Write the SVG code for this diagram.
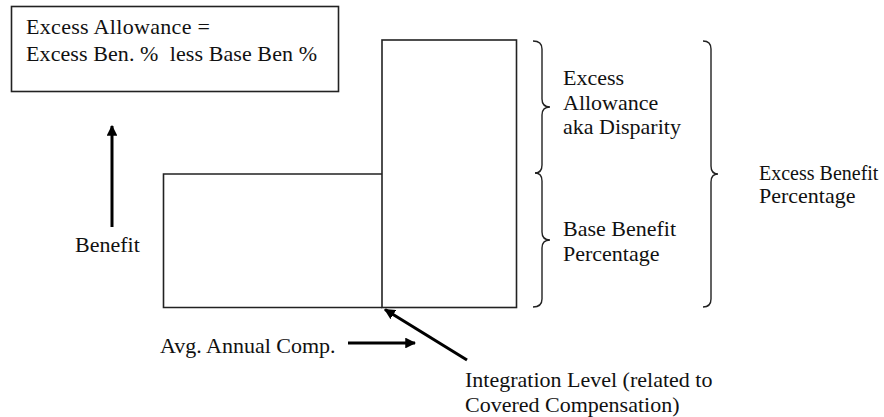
<svg xmlns="http://www.w3.org/2000/svg" width="884" height="417" viewBox="0 0 884 417">
<style>
  text { font-family: 'Liberation Serif', 'Times New Roman', Tinos, 'DejaVu Serif', serif; font-size: 22px; fill: #111; }
  .box { fill: none; stroke: #222; stroke-width: 1.6; }
  .brace { fill: none; stroke: #222; stroke-width: 1.4; }
  .arrow { fill: none; stroke: #000; stroke-width: 3; }
</style>
<defs>
  <marker id="ah" viewBox="0 0 10 10" refX="9" refY="5" markerWidth="3.6" markerHeight="3.6" orient="auto" markerUnits="strokeWidth">
    <path d="M0,0 L10,5 L0,10 Z" fill="#000"/>
  </marker>
</defs>
<rect width="884" height="417" fill="#fff"/>

<g id="formula-box">
  <rect class="box" x="11.5" y="6.5" width="327" height="85"/>
  <text x="26" y="34" textLength="184" lengthAdjust="spacing">Excess Allowance =</text>
  <text x="26" y="60.5" xml:space="preserve" textLength="291" lengthAdjust="spacing">Excess Ben. %  less Base Ben %</text>
</g>

<g id="base-bar">
  <path class="box" d="M382,174 L163.5,174 L163.5,307.5 L382,307.5"/>
</g>

<g id="excess-bar">
  <rect class="box" x="382" y="40" width="134.5" height="267.5"/>
</g>

<g id="benefit-label">
  <text x="75" y="252">Benefit</text>
</g>

<g id="avg-comp-label">
  <text x="160" y="353">Avg. Annual Comp.</text>
</g>

<g id="integration-label">
  <text x="465" y="387">Integration Level (related to</text>
  <text x="465" y="412">Covered Compensation)</text>
</g>

<g id="excess-allowance-brace">
  <path class="brace" d="M533,41 Q542,41 542,49 L542,99 Q542,107 550,107 Q542,107 542,115 L542,165 Q542,173 535,173"/>
  <text x="563" y="85">Excess</text>
  <text x="563" y="109.5">Allowance</text>
  <text x="563" y="134">aka Disparity</text>
</g>

<g id="base-benefit-brace">
  <path class="brace" d="M535,173 Q542,173 542,181 L542,232 Q542,240 550,240 Q542,240 542,248 L542,299 Q542,307 533,307"/>
  <text x="563" y="236">Base Benefit</text>
  <text x="563" y="261">Percentage</text>
</g>

<g id="excess-benefit-brace">
  <path class="brace" d="M703,41 Q711,41 711,49 L711,166 Q711,174 718,174 Q711,174 711,182 L711,299 Q711,307 703,307"/>
  <text x="759" y="180" style="font-size:20px">Excess Benefit</text>
  <text x="759" y="203">Percentage</text>
</g>

<g id="connectors">
  <line class="arrow" x1="112" y1="227" x2="112" y2="126" marker-end="url(#ah)"/>
  <line class="arrow" x1="348" y1="343" x2="415" y2="343" marker-end="url(#ah)"/>
  <line class="arrow" x1="467" y1="360" x2="385" y2="309.5" marker-end="url(#ah)"/>
</g>
</svg>
